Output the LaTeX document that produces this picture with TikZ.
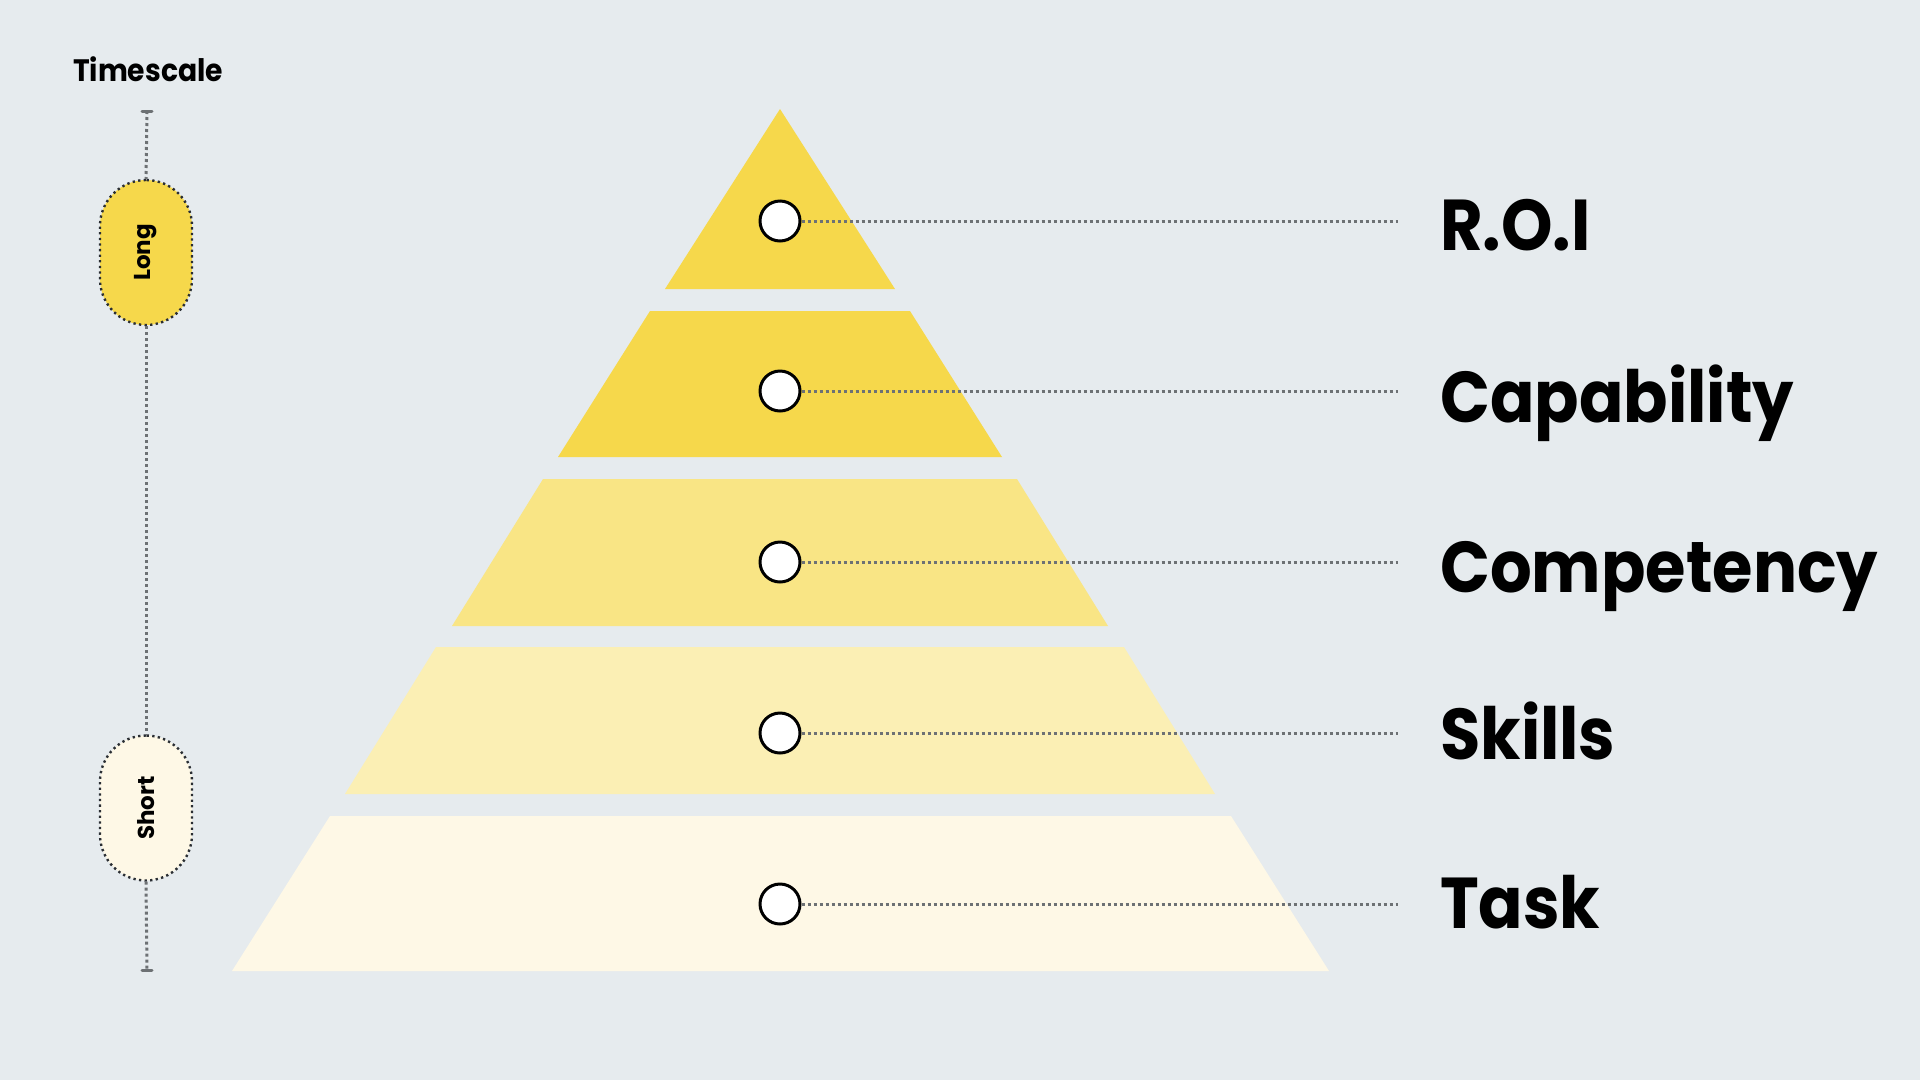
\documentclass[tikz,border=0pt]{standalone}
\usepackage{fontspec}
\newfontfamily\pop{Poppins}
\newfontfamily\popn{Poppins}[FakeStretch=0.91]
\definecolor{bg}{HTML}{E6EBEE}
\definecolor{ya}{HTML}{F6D84B}
\definecolor{yb}{HTML}{F6D84B}
\definecolor{yc}{HTML}{F9E585}
\definecolor{yd}{HTML}{FBEFB4}
\definecolor{ye}{HTML}{FEF8E6}
\definecolor{dotgray}{HTML}{6D7174}
\definecolor{pillline}{HTML}{2A2E33}
\begin{document}
\begin{tikzpicture}[x=1pt,y=-1pt,
  dot/.style={circle,draw=black,fill=white,line width=3pt,minimum size=40pt,inner sep=0pt},
  guide/.style={dotgray,line width=3pt,dash pattern=on 3pt off 3pt},
  tierlabel/.style={anchor=base west,inner sep=0pt,font=\popn\bfseries\fontsize{72}{72}\selectfont,text=black},
  pill/.style={draw=pillline,line width=2.4pt,dash pattern=on 2.3pt off 3.3pt,rounded corners=46pt,minimum width=92pt,minimum height=145pt,inner sep=0pt,font=\pop\bfseries\fontsize{23}{23}\selectfont},
  tick/.style={dotgray,line width=3pt,line cap=round}
]
\fill[bg] (0,0) rectangle (1920,1080);
\useasboundingbox (0,0) rectangle (1920,1080);

% pyramid tiers
\fill[ya] (780,109) -- (895,289) -- (665,289) -- cycle;
\fill[yb] (650,311) -- (910,311) -- (1002,457) -- (558,457) -- cycle;
\fill[yc] (543,479) -- (1017,479) -- (1108,626) -- (452,626) -- cycle;
\fill[yd] (436,647) -- (1124,647) -- (1215,794) -- (345,794) -- cycle;
\fill[ye] (330,816) -- (1231,816) -- (1329,971) -- (232,971) -- cycle;

% circles
\node[dot] (c1) at (780,221) {};
\node[dot] (c2) at (780,391) {};
\node[dot] (c3) at (780,562) {};
\node[dot] (c4) at (780,733) {};
\node[dot] (c5) at (780,904) {};

% line ends
\coordinate (e1) at (1398,221);
\coordinate (e2) at (1398,391);
\coordinate (e3) at (1398,562);
\coordinate (e4) at (1398,733);
\coordinate (e5) at (1398,904);

\draw[guide] (c1.east) -- (e1);
\draw[guide] (c2.east) -- (e2);
\draw[guide] (c3.east) -- (e3);
\draw[guide] (c4.east) -- (e4);
\draw[guide] (c5.east) -- (e5);

% labels
\node[tierlabel] (l1) at (1440,250) {R.O.I};
\node[tierlabel] (l2) at (1440,422) {Capability};
\node[tierlabel] (l3) at (1440,592) {Competency};
\node[tierlabel] (l4) at (1440,759) {Skills};
\node[tierlabel] (l5) at (1440,928) {Task};

% timescale
\node[anchor=base,inner sep=0pt,font=\popn\bfseries\fontsize{31}{31}\selectfont] (ts) at (148,81) {Timescale};
\coordinate (ttop) at (147,111);
\coordinate (tbot) at (147,970);
\node[pill,fill=ya] (long) at (146,252.5) {\rotatebox{90}{Long}};
\node[pill,fill=ye] (short) at (146,808) {\rotatebox{90}{Short}};
\draw[guide] (ttop) -- (long.north);
\draw[guide] (long.south) -- (short.north);
\draw[guide] (short.south) -- (tbot);
\draw[tick] ([xshift=-5pt]ttop) -- ([xshift=5pt]ttop);
\draw[tick] ([xshift=-5pt]tbot) -- ([xshift=5pt]tbot);
\end{tikzpicture}
\end{document}
